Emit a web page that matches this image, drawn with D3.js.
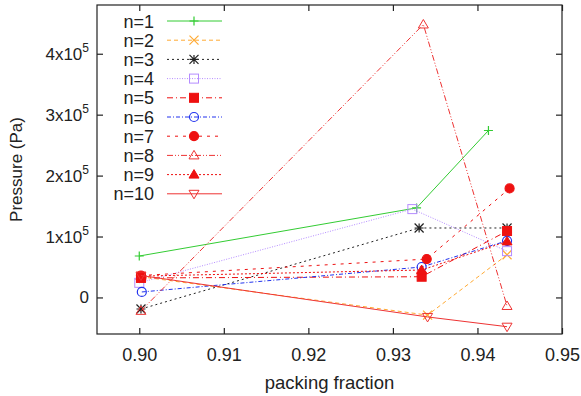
<!DOCTYPE html>
<html><head><meta charset="utf-8">
<script src="https://cdn.jsdelivr.net/npm/d3@7/dist/d3.min.js"></script>
<style>body{margin:0;background:#fff}svg{display:block}text{font-family:"Liberation Sans",Arial,sans-serif}</style>
</head><body><svg id="c" width="581" height="396"></svg>
<script>
const seriesNames = ["n=1","n=2","n=3","n=4","n=5","n=6","n=7","n=8","n=9","n=10"];
const xTicks = [0.90,0.91,0.92,0.93,0.94,0.95];
const yTicks = [0,1e5,2e5,3e5,4e5];
const pf1 = [0.9000,0.9328,0.9413];
const p1  = [0.68e5,1.47e5,2.74e5];
const pf2 = [0.9002,0.9341,0.9435];
const p2  = [0.34e5,-0.29e5,0.70e5];
const pf3 = [0.9002,0.9331,0.9435];
const p3  = [-0.19e5,1.14e5,1.14e5];
const pf4 = [0.9000,0.9323,0.9435];
const p4  = [0.24e5,1.45e5,0.76e5];
const pf5 = [0.9002,0.9334,0.9435];
const p5  = [0.32e5,0.34e5,1.09e5];
const pf6 = [0.9003,0.9334,0.9435];
const p6  = [0.09e5,0.50e5,0.93e5];
const pf7 = [0.9002,0.9340,0.9438];
const p7  = [0.36e5,0.63e5,1.79e5];
const pf8 = [0.9002,0.9336,0.9435];
const p8  = [-0.22e5,4.48e5,-0.14e5];
const pf9 = [0.9002,0.9334,0.9435];
const p9  = [0.35e5,0.45e5,0.92e5];
const pf10 = [0.9002,0.9341,0.9435];
const p10  = [0.36e5,-0.32e5,-0.48e5];

const xs=[pf1,pf2,pf3,pf4,pf5,pf6,pf7,pf8,pf9,pf10];
const ys=[p1,p2,p3,p4,p5,p6,p7,p8,p9,p10];
const styles=[
 {c:"#33cc33",d:null,m:"plus"},
 {c:"#ffaa33",d:"4,3",m:"cross"},
 {c:"#222222",d:"2,3",m:"star"},
 {c:"#b58cff",d:"1,1.5",m:"sqo"},
 {c:"#ee1111",d:"6,3,1,3",m:"sqf"},
 {c:"#2233ee",d:"4,2,1,2",m:"cio"},
 {c:"#ee1111",d:"3,5",m:"cif"},
 {c:"#ee3333",d:"6,2,1,2,1,2",m:"tuo"},
 {c:"#ee1111",d:"2,2",m:"tuf"},
 {c:"#ee3333",d:null,m:"tdo"}
];

const L=97,R=562,T=5,B=334;
const x=d3.scaleLinear().domain([0.895,0.95]).range([L,R]);
const y=d3.scaleLinear().domain([-0.6e5,4.8e5]).range([B,T]);
const svg=d3.select("#c");

function marker(g,type,cx,cy,col){
  const s=4.5;
  if(type==="plus"){g.append("path").attr("d",`M${cx-s},${cy}H${cx+s}M${cx},${cy-s}V${cy+s}`).attr("stroke",col).attr("stroke-width",1.2);}
  else if(type==="cross"){g.append("path").attr("d",`M${cx-s},${cy-s}L${cx+s},${cy+s}M${cx-s},${cy+s}L${cx+s},${cy-s}`).attr("stroke",col).attr("stroke-width",1.2);}
  else if(type==="star"){g.append("path").attr("d",`M${cx-s},${cy-s}L${cx+s},${cy+s}M${cx-s},${cy+s}L${cx+s},${cy-s}M${cx-s},${cy}H${cx+s}M${cx},${cy-s}V${cy+s}`).attr("stroke",col).attr("stroke-width",1.2);}
  else if(type==="sqo"||type==="sqf"){g.append("rect").attr("x",cx-s).attr("y",cy-s).attr("width",2*s).attr("height",2*s).attr("fill",type==="sqf"?col:"none").attr("stroke",col).attr("stroke-width",1);}
  else if(type==="cio"||type==="cif"){g.append("circle").attr("cx",cx).attr("cy",cy).attr("r",s).attr("fill",type==="cif"?col:"none").attr("stroke",col).attr("stroke-width",1.2);}
  else if(type==="tuo"||type==="tuf"){g.append("path").attr("d",`M${cx},${cy-s-0.5}L${cx+s+0.5},${cy+s-1}L${cx-s-0.5},${cy+s-1}Z`).attr("fill",type==="tuf"?col:"none").attr("stroke",col).attr("stroke-width",1);}
  else if(type==="tdo"){g.append("path").attr("d",`M${cx},${cy+s+0.5}L${cx+s+0.5},${cy-s+1}L${cx-s-0.5},${cy-s+1}Z`).attr("fill","none").attr("stroke",col).attr("stroke-width",1);}
}

// frame
svg.append("rect").attr("x",L).attr("y",T).attr("width",R-L).attr("height",B-T).attr("fill","none").attr("stroke","#222").attr("stroke-width",1.2);

// axes ticks
const ax=svg.append("g").attr("transform",`translate(0,${B})`).call(d3.axisBottom(x).tickValues(xTicks).tickSizeInner(-6).tickSizeOuter(0).tickPadding(14).tickFormat(d3.format(".2f")));
const axT=svg.append("g").attr("transform",`translate(0,${T})`).call(d3.axisTop(x).tickValues(xTicks).tickSizeInner(-6).tickSizeOuter(0).tickFormat(""));
const ay=svg.append("g").attr("transform",`translate(${L},0)`).call(d3.axisLeft(y).tickValues(yTicks).tickSizeInner(-6).tickSizeOuter(0).tickPadding(10).tickFormat(""));
const ayR=svg.append("g").attr("transform",`translate(${R},0)`).call(d3.axisRight(y).tickValues(yTicks).tickSizeInner(-6).tickSizeOuter(0).tickFormat(""));
[ax,axT,ay,ayR].forEach(a=>{a.select(".domain").remove();a.selectAll("line").attr("stroke","#222").attr("stroke-width",1.2);});
ax.selectAll("text").attr("font-size",18).attr("fill","#222").style("font-family","Liberation Sans, Arial, sans-serif");
// y labels with superscript
yTicks.forEach(v=>{
  const t=svg.append("text").attr("x",L-8).attr("y",y(v)+6).attr("text-anchor","end").attr("font-size",17).attr("fill","#222");
  if(v===0){t.text("0");}
  else{t.append("tspan").text((v/1e5)+"x10");t.append("tspan").attr("dy",-8).attr("font-size",12).text("5");}
});
svg.append("text").attr("transform",`translate(22,${(T+B)/2}) rotate(-90)`).attr("text-anchor","middle").attr("font-size",17).attr("fill","#222").text("Pressure (Pa)");
svg.append("text").attr("x",(L+R)/2).attr("y",389).attr("text-anchor","middle").attr("font-size",18.5).attr("fill","#222").text("packing fraction");

// series
const plot=svg.append("g");
const line=d3.line().x(d=>x(d[0])).y(d=>y(d[1]));
xs.forEach((xv,i)=>{
  const pts=xv.map((v,j)=>[v,ys[i][j]]);
  const st=styles[i];
  plot.append("path").attr("d",line(pts)).attr("fill","none").attr("stroke",st.c).attr("stroke-width",1).attr("stroke-dasharray",st.d);
  const g=plot.append("g");
  pts.forEach(p=>marker(g,st.m,x(p[0]),y(p[1]),st.c));
});

// legend
const lg=svg.append("g");
seriesNames.forEach((n,i)=>{
  const yy=21+i*19.2;
  const st=styles[i];
  lg.append("text").attr("x",154).attr("y",yy+6.5).attr("text-anchor","end").attr("font-size",18).attr("fill","#222").text(n);
  lg.append("line").attr("x1",167).attr("x2",222).attr("y1",yy).attr("y2",yy).attr("stroke",st.c).attr("stroke-width",1).attr("stroke-dasharray",st.d);
  marker(lg,st.m,194,yy,st.c);
});
</script></body></html>
